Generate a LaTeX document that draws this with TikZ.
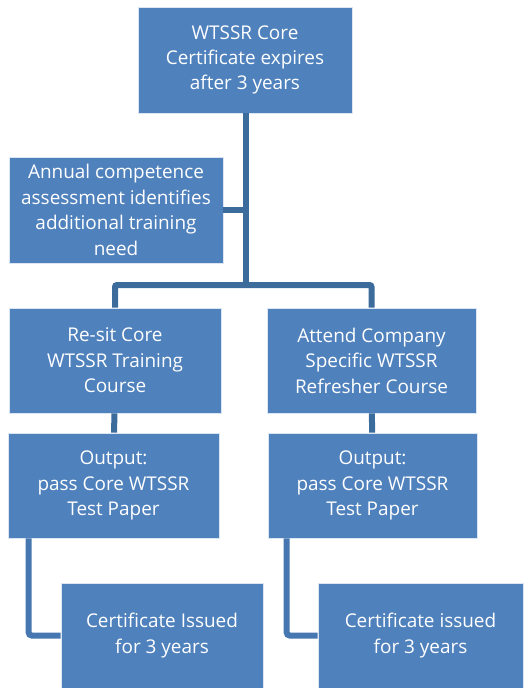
\documentclass[tikz,border=0pt]{standalone}
\usepackage{fontspec}
\setmainfont{Open Sans}
\usepackage{xcolor}
\definecolor{boxblue}{HTML}{4F81BD}
\definecolor{trunkblue}{HTML}{3C6C9C}
\definecolor{elbowblue}{HTML}{4677B0}
\tikzset{
  stepbox/.style={rectangle,fill=boxblue,draw=white!80!boxblue,line width=0.6bp,
                  text=white,align=center,inner sep=0pt,
                  minimum width=#1,minimum height=105bp,
                  font=\fontsize{19}{25.5}\selectfont},
  stepbox/.default=211bp,
  trunk/.style={draw=trunkblue,line width=6bp,rounded corners=2bp},
  elbow/.style={draw=elbowblue,line width=6bp,rounded corners=3bp}
}

\begin{document}
\begin{tikzpicture}[x=1bp,y=-1bp]
  \useasboundingbox (0,0) rectangle (528,688);
  \coordinate (split) at (245.5,285);
  \node[stepbox=214bp,minimum height=106bp] (expiry) at (245,60)
        {WTSSR Core\\Certificate expires\\after 3 years};
  \node[stepbox=214bp,minimum height=106bp] (annual) at (116,210)
        {Annual competence\\assessment identifies\\additional training\\need};
  \node[stepbox=212bp] (resit)  at (115,360.5) {Re-sit Core\\WTSSR Training\\Course};
  \node[stepbox=209bp] (attend) at (371.5,360.5) {Attend Company\\Specific WTSSR\\Refresher Course};
  \node[stepbox]       (passL)  at (113.5,485.5) {Output:\\pass Core WTSSR\\Test Paper};
  \node[stepbox=209bp] (passR)  at (372.5,485.5) {Output:\\pass Core WTSSR\\Test Paper};
  \node[stepbox=202bp] (certL)  at (162,635.5) {Certificate Issued\\for 3 years};
  \node[stepbox=205bp] (certR)  at (420.5,635.5) {Certificate issued\\for 3 years};

  % connectors
  \draw[trunk] (expiry.south -| split) -- (split);
  \draw[trunk] (annual.east) -- (annual.east -| split);
  \draw[trunk] (resit.north) |- (split) -| (attend.north);
  \draw[trunk] (resit) -- (passL);
  \draw[trunk] (attend) -- (passR);
  \draw[elbow] ([xshift=21bp]passL.south west) |- (certL.west);
  \draw[elbow] ([xshift=19bp]passR.south west) |- (certR.west);
\end{tikzpicture}
\end{document}
